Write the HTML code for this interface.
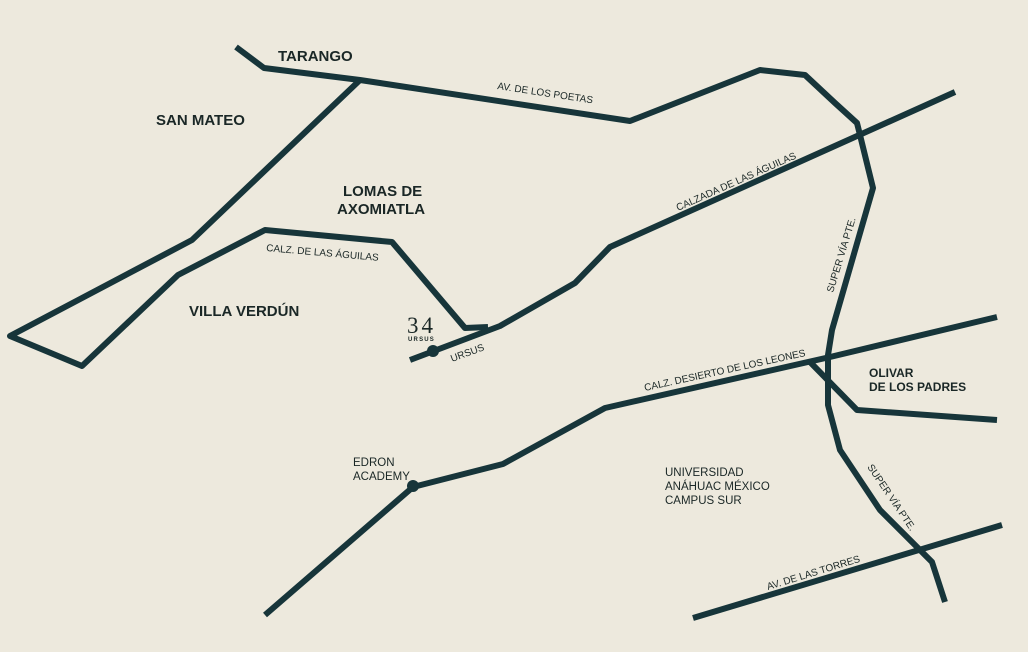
<!DOCTYPE html>
<html><head><meta charset="utf-8"><style>
html,body{margin:0;padding:0;background:#ede9dd;}
svg{display:block}
text{font-family:"Liberation Sans",sans-serif;fill:#1a2726}
.b{font-weight:bold;font-size:15px}
.s{font-size:10px}
.m{font-size:11.5px}
</style></head><body>
<svg width="1028" height="652" viewBox="0 0 1028 652">
<rect width="1028" height="652" fill="#ede9dd"/>
<g fill="none" stroke="#17353a" stroke-width="6" stroke-linejoin="round" stroke-linecap="butt">
<polyline points="236,47 264,68 360,80 630,121 760,70 805,75 835,103 857,123 860,135 873,188 832,330 828,355 828,405 840,450 880,510 915,545 932,562 945,602"/>
<polyline points="360,80 192,240 10,336 82,366 178,275 265,230 392,242 465,328 488,327"/>
<polyline points="410,360 500,326 575,283 610,247 955,92"/>
<polyline points="265,615 413,487 503,464 605,408 830,357 997,317"/>
<polyline points="810,362 857,410 997,420"/>
<polyline points="693,618 1002,525"/>
</g>
<circle cx="433" cy="351" r="6" fill="#17353a"/>
<circle cx="413" cy="486" r="6" fill="#17353a"/>
<text class="b" x="278" y="61">TARANGO</text>
<text class="b" x="156" y="125">SAN MATEO</text>
<text class="b" x="343" y="196">LOMAS DE</text>
<text class="b" x="337" y="214">AXOMIATLA</text>
<text class="b" x="189" y="316">VILLA VERDÚN</text>
<text class="b" x="869" y="377" style="font-size:12px">OLIVAR</text>
<text class="b" x="869" y="391" style="font-size:12px">DE LOS PADRES</text>
<text class="m" x="665" y="476">UNIVERSIDAD</text>
<text class="m" x="665" y="490">ANÁHUAC MÉXICO</text>
<text class="m" x="665" y="504">CAMPUS SUR</text>
<text class="m" x="353" y="466">EDRON</text>
<text class="m" x="353" y="480">ACADEMY</text>
<text x="407" y="333" style="font-family:'Liberation Serif',serif;font-size:23px;letter-spacing:3px">34</text>
<text x="408" y="341" style="font-size:6px;font-weight:bold;letter-spacing:1.2px">URSUS</text>
<text class="s" transform="translate(497,89) rotate(8.6)">AV. DE LOS POETAS</text>
<text class="s" transform="translate(678,211) rotate(-24)">CALZADA DE LAS ÁGUILAS</text>
<text class="s" transform="translate(266,251) rotate(5)">CALZ. DE LAS ÁGUILAS</text>
<text class="s" transform="translate(452,362) rotate(-20)">URSUS</text>
<text class="s" transform="translate(833,293) rotate(-73)">SUPER VÍA PTE.</text>
<text class="s" transform="translate(645,391) rotate(-12.3)">CALZ. DESIERTO DE LOS LEONES</text>
<text class="s" transform="translate(867,467) rotate(56)">SUPER VÍA PTE.</text>
<text class="s" transform="translate(768,590) rotate(-17)">AV. DE LAS TORRES</text>
</svg>
</body></html>
